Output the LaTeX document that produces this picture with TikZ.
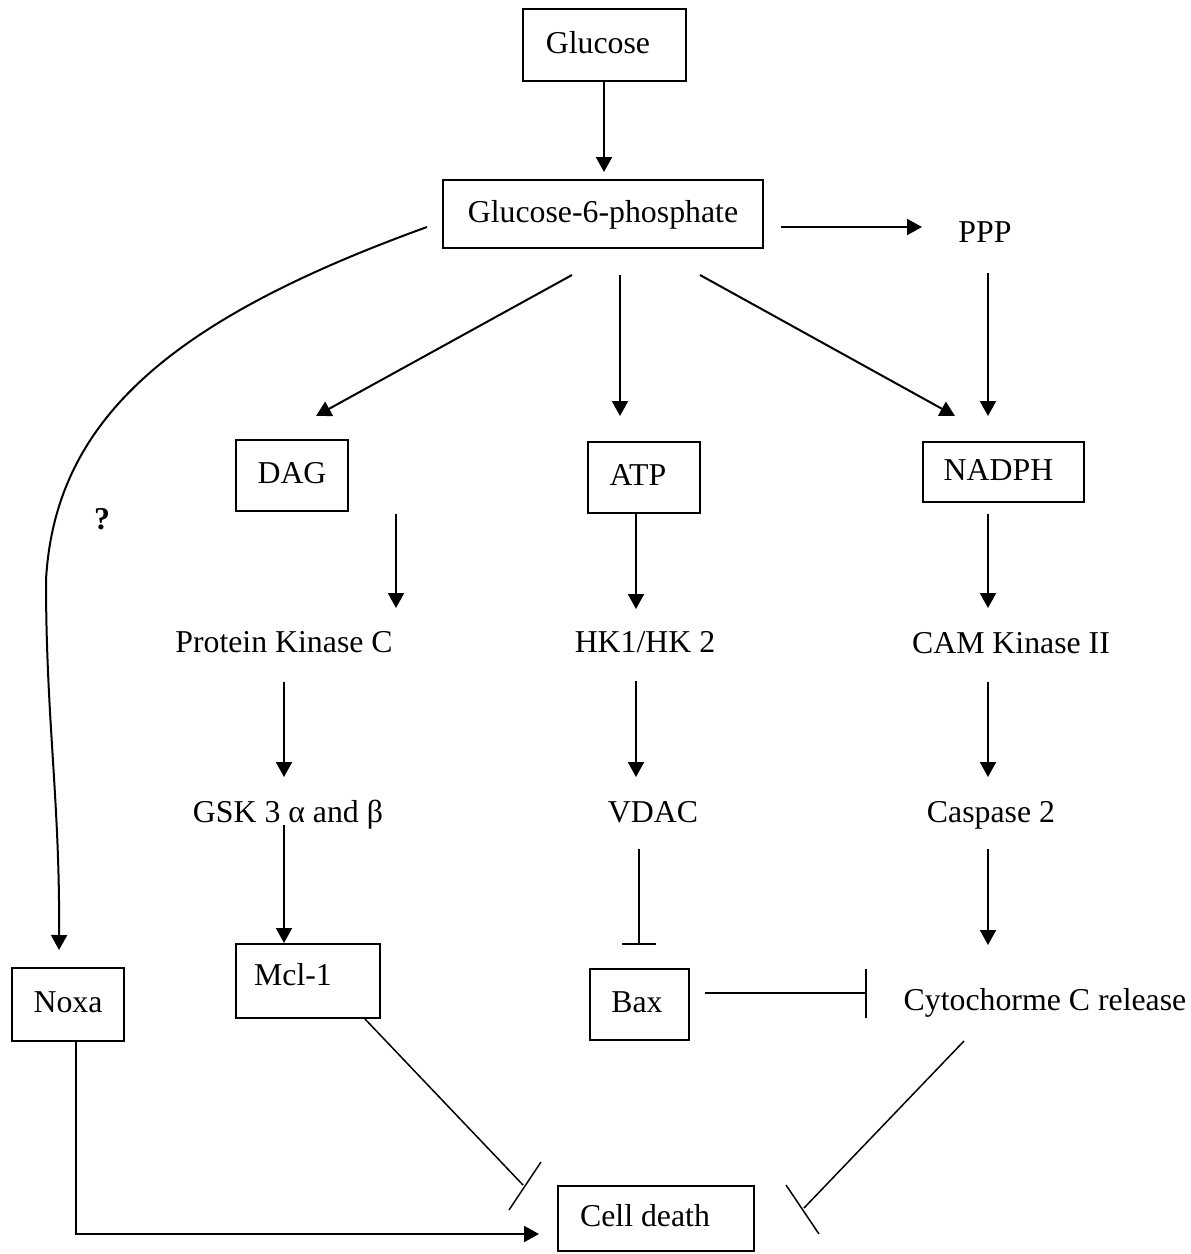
\documentclass[tikz,border=0pt]{standalone}
\usepackage{fontspec}
\setmainfont{Liberation Serif}
\usetikzlibrary{arrows.meta}
\begin{document}
\begin{tikzpicture}[x=1pt,y=-1pt,
  every node/.style={font=\fontsize{31.8pt}{38pt}\selectfont},
  box/.style={draw, line width=2pt, inner sep=0pt, text height=22pt, text depth=6pt},
  lbl/.style={inner sep=0pt, anchor=base},
  arr/.style={line width=2pt, -{Triangle[length=15pt,width=16pt]}},
  inh/.style={line width=2pt, -{Bar[width=#1]}},
  inhd/.style={line width=1.5pt}]
\useasboundingbox (0,0) rectangle (1191,1254);

% nodes
\node[box, minimum width=163pt, minimum height=72pt] (glu) at (604,45) {\kern-12pt Glucose};
\node[box, minimum width=320pt, minimum height=68pt] (g6p) at (603,214) {Glucose-6-phosphate};
\node[lbl] (ppp) at (985,242) {PPP};
\node[box, minimum width=112pt, minimum height=71pt] (dag) at (292,475.5) {DAG};
\node[box, minimum width=112pt, minimum height=71pt] (atp) at (644,477.5) {\kern-12pt ATP};
\node[box, minimum width=161pt, minimum height=60pt] (nadph) at (1003.5,472) {\kern-10pt NADPH};
\node[lbl] (pkc) at (284,652) {Protein Kinase C};
\node[lbl] (hk) at (645,652) {HK1/HK 2};
\node[lbl] (cam) at (1011,653) {CAM Kinase II};
\node[lbl] (gsk) at (288,822) {GSK 3 α and β};
\node[lbl] (vdac) at (653,822) {VDAC};
\node[lbl] (casp) at (991,822) {Caspase 2};
\node[lbl, font=\fontsize{31.8pt}{38pt}\selectfont\bfseries] (q) at (102,529) {?};
\node[box, minimum width=112pt, minimum height=73pt] (noxa) at (68,1004.5) {Noxa};
\node[box, minimum width=144pt, minimum height=74pt] (mcl) at (308,981) {\kern-30pt\raisebox{4pt}{Mcl-1}};
\node[box, minimum width=99pt, minimum height=71pt] (bax) at (639.5,1004.5) {\kern-5pt Bax};
\node[lbl] (cyto) at (1045,1010) {Cytochorme C release};
\node[box, minimum width=196pt, minimum height=65pt] (cd) at (656,1218.5) {\kern-22pt Cell death};

% connectors
\draw[arr, shorten >=7pt] (glu.south) -- (glu.south |- g6p.north);
\draw[arr] ([shift={(17pt,-13pt)}]g6p.east) -- ([shift={(-63pt,15pt)}]ppp.base);
\draw[arr] ([shift={(-31pt,-26pt)}]g6p.south) -- ([shift={(24pt,23pt)}]dag.north);
\draw[arr] ([shift={(17pt,-26pt)}]g6p.south) -- ([shift={(-24pt,25pt)}]atp.north);
\draw[arr] ([shift={(97pt,-26pt)}]g6p.south) -- ([shift={(-48.5pt,25pt)}]nadph.north);
\draw[arr] ([shift={(3pt,-31pt)}]ppp.base) -- ([shift={(-15.5pt,25pt)}]nadph.north);

\draw[arr] ([shift={(104pt,-2pt)}]dag.south) -- ([shift={(112pt,44pt)}]pkc.base);
\draw[arr] ([shift={(0pt,-30pt)}]pkc.base) -- ([shift={(-4pt,45pt)}]gsk.base);
\draw[arr] ([shift={(-4pt,-3pt)}]gsk.base) -- ([shift={(-24pt,0pt)}]mcl.north);

\draw[arr] ([shift={(-8pt,0pt)}]atp.south) -- ([shift={(-9pt,43pt)}]hk.base);
\draw[arr] ([shift={(-9pt,-29pt)}]hk.base) -- ([shift={(-17pt,45pt)}]vdac.base);
\draw[inh=34pt] ([shift={(-14pt,-27pt)}]vdac.base) -- ([shift={(-0.5pt,23pt)}]bax.north);

\draw[arr] ([shift={(-15.5pt,-11pt)}]nadph.south) -- ([shift={(-23pt,45pt)}]cam.base);
\draw[arr] ([shift={(-23pt,-29pt)}]cam.base) -- ([shift={(-3pt,45pt)}]casp.base);
\draw[arr] ([shift={(-3pt,-27pt)}]casp.base) -- ([shift={(-57pt,65pt)}]cyto.base);

\draw[inh=49pt] ([shift={(15pt,11.5pt)}]bax.east) -- ([shift={(-178pt,17pt)}]cyto.base);

\draw[arr] ([xshift=8pt]noxa.south) |- ([shift={(-18pt,-15.5pt)}]cd.west);
\draw[inhd] ([shift={(57pt,0pt)}]mcl.south) -- ([shift={(-34pt,33.5pt)}]cd.west)
  ++(18,-23) -- ++(-32,48);
\draw[inhd] ([shift={(-81pt,-31pt)}]cyto.base) -- ([shift={(49pt,10.5pt)}]cd.east)
  ++(-18,-23) -- ++(33,49);

\draw[arr] ([shift={(-15pt,-13pt)}]g6p.west) .. controls (170,320) and (55,420) .. (46,580)
  .. controls (46,720) and (60,800) .. ([shift={(-9pt,17pt)}]noxa.north);
\end{tikzpicture}
\end{document}
